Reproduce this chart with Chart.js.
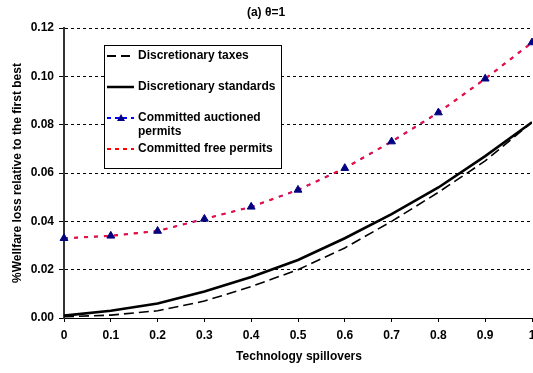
<!DOCTYPE html>
<html><head><meta charset="utf-8">
<script src="https://cdn.jsdelivr.net/npm/chart.js@4"></script>
<style>html,body{margin:0;padding:0;background:#fff}canvas{display:block}</style>
</head><body>
<canvas id="c" width="533" height="373"></canvas>
<script>
const spill = [0,0.1,0.2,0.3,0.4,0.5,0.6,0.7,0.8,0.9,1];
const discTaxes = [0.0005,0.0012,0.003,0.007,0.013,0.020,0.029,0.040,0.052,0.065,0.081];
const discStandards = [0.001,0.003,0.006,0.011,0.017,0.024,0.033,0.043,0.054,0.067,0.081];
const commAuctioned = [0.033,0.034,0.036,0.041,0.046,0.053,0.062,0.073,0.085,0.099,0.114];
const commFree = [0.033,0.034,0.036,0.041,0.046,0.053,0.062,0.073,0.085,0.099,0.114];
const titleText = "(a) \u03b8=1";
const xTitle = "Technology spillovers";
const yTitle = "%Wellfare loss relative to the first best";
const legendLabels = ["Discretionary taxes","Discretionary standards","Committed auctioned","permits","Committed free permits"];

const pts = a => a.map((v,i)=>({x:spill[i],y:v}));
const FONT = "'Liberation Sans', Arial, sans-serif";

const deco = {
  id:'deco',
  afterDraw(chart){
    const ctx = chart.ctx;
    ctx.save();
    ctx.fillStyle='#000';
    ctx.font = "bold 12px "+FONT;
    ctx.textAlign='center'; ctx.textBaseline='middle';
    ctx.fillText(titleText, 266, 13);
    ctx.fillText(xTitle, 299, 357);
    ctx.save(); ctx.translate(18, 173); ctx.rotate(-Math.PI/2);
    ctx.fillText(yTitle, 0, 0); ctx.restore();
    // legend
    ctx.fillStyle='#fff';
    ctx.fillRect(104,45,178,123);
    ctx.strokeStyle='#000'; ctx.lineWidth=1; ctx.setLineDash([]);
    ctx.strokeRect(104.5,45.5,177,123);
    const line=(y,color,w,dash)=>{ctx.beginPath();ctx.strokeStyle=color;ctx.lineWidth=w;ctx.setLineDash(dash);ctx.moveTo(107,y);ctx.lineTo(134,y);ctx.stroke();ctx.setLineDash([]);};
    line(56,'#000',2,[9,5]);
    line(87,'#000',2.5,[]);
    line(118,'#0000ff',2,[4,4]);
    ctx.fillStyle='#000080';
    ctx.beginPath();ctx.moveTo(121,114);ctx.lineTo(125,121);ctx.lineTo(117,121);ctx.closePath();ctx.fill();
    line(149,'#ff0000',2,[4,4]);
    ctx.fillStyle='#000'; ctx.font="bold 12px "+FONT; ctx.textAlign='left';
    ctx.fillText(legendLabels[0],138,56);
    ctx.fillText(legendLabels[1],138,87);
    ctx.fillText(legendLabels[2],138,118);
    ctx.fillText(legendLabels[3],138,132);
    ctx.fillText(legendLabels[4],138,149);
    ctx.restore();
  }
};

new Chart(document.getElementById('c'),{
  type:'line',
  data:{datasets:[
    {label:'Discretionary taxes',data:pts(discTaxes),borderColor:'#000',borderWidth:1.6,borderDash:[10,5],pointRadius:0,tension:0,fill:false,order:5},
    {label:'Discretionary standards',data:pts(discStandards),borderColor:'#000',borderWidth:2.6,pointRadius:0,tension:0,fill:false,order:4},
    {label:'Committed auctioned permits',data:pts(commAuctioned),borderColor:'#0000ff',borderWidth:1.5,borderDash:[4,6],pointRadius:0,tension:0,fill:false,order:3},
    {label:'Committed free permits',data:pts(commFree),borderColor:'#ec1040',borderWidth:2.2,borderDash:[4,6],pointRadius:0,tension:0,fill:false,order:2},
    {label:'Committed auctioned permits markers',data:pts(commAuctioned),showLine:false,pointStyle:'triangle',pointRadius:4.5,pointBackgroundColor:'#000080',pointBorderColor:'#000080',pointBorderWidth:1,clip:false,order:1}
  ]},
  options:{
    responsive:false,animation:false,
    layout:{autoPadding:false,padding:{top:28,right:1,bottom:0,left:0}},
    plugins:{legend:{display:false},tooltip:{enabled:false},title:{display:false}},
    scales:{
      x:{type:'linear',min:0,max:1,
        ticks:{stepSize:0.1,color:'#000',font:{family:FONT,size:12,weight:'bold'},padding:6,maxRotation:0,
          callback:v=>String(Math.round(v*10)/10)},
        grid:{drawOnChartArea:false,drawTicks:true,tickLength:4,tickColor:'#000'},
        border:{color:'#000',width:1},
        afterFit(s){s.height=55;s.paddingLeft=0;s.paddingRight=0;}
      },
      y:{min:0,max:0.12,
        ticks:{stepSize:0.02,color:'#000',font:{family:FONT,size:12,weight:'bold'},padding:5,callback:v=>v.toFixed(2)},
        grid:{color:'#000',lineWidth:1,tickLength:5,tickColor:'#000',tickBorderDash:[]},
        border:{color:'#333',width:2,dash:[3,3]},
        afterFit(s){s.width=64;s.paddingTop=0;s.paddingBottom=0;}
      }
    }
  },
  plugins:[deco]
});
</script>
</body></html>
